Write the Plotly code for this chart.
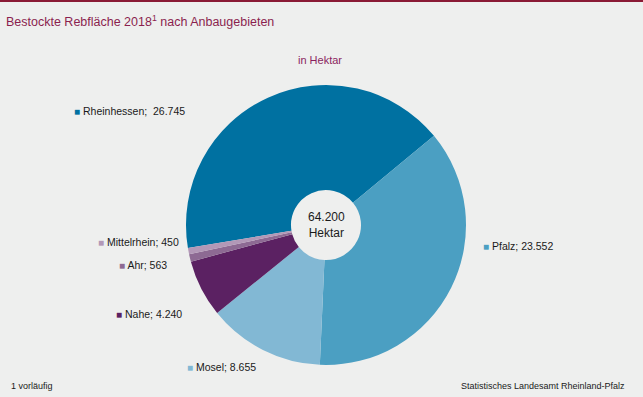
import plotly.graph_objects as go

regions = ["Rheinhessen", "Pfalz", "Mosel", "Nahe", "Ahr", "Mittelrhein"]
hectares = [26745, 23552, 8655, 4240, 563, 450]
value_labels = ["26.745", "23.552", "8.655", "4.240", "563", "450"]
colors = ["#0071A1", "#4B9FC2", "#82B8D4", "#5B2162", "#8D6A93", "#B298B7"]
total_label = "64.200"

W, H = 643, 397
def px(x):
    return x / W
def py(y):
    return 1 - y / H

cx, cy, r = 326, 225, 140

fig = go.Figure()
fig.add_trace(go.Pie(
    labels=regions,
    values=hectares,
    sort=False,
    direction="clockwise",
    rotation=-99.5,
    hole=0.25,
    marker=dict(colors=colors, line=dict(width=0)),
    textinfo="none",
    hoverinfo="label+value",
    showlegend=False,
    domain=dict(x=[px(cx - r), px(cx + r)], y=[py(cy + r), py(cy - r)]),
))

label_pos = {
    "Rheinhessen": (72, 111),
    "Pfalz": (481, 246),
    "Mosel": (185, 367),
    "Nahe": (114, 314),
    "Ahr": (117, 265),
    "Mittelrhein": (96, 242),
}

annotations = []
for name, val, col in zip(regions, value_labels, colors):
    x, y = label_pos[name]
    sep = ";  " if name == "Rheinhessen" else "; "
    annotations.append(dict(
        x=px(x), y=py(y), xref="paper", yref="paper",
        xanchor="left", yanchor="middle", showarrow=False,
        text=f"<span style='color:{col};font-size:10px'>■</span> {name}{sep}{val}",
        font=dict(family="Liberation Sans, Arial", size=10.5, color="#1a1a1a"),
    ))

annotations += [
    dict(x=px(cx), y=py(cy), xref="paper", yref="paper", showarrow=False,
         text=f"{total_label}<br>Hektar", align="center",
         font=dict(family="Liberation Sans, Arial", size=12, color="#1a1a1a")),
    dict(x=px(4), y=py(21), xref="paper", yref="paper", xanchor="left", yanchor="middle",
         showarrow=False, text="Bestockte Rebfläche 2018<sup>1</sup> nach Anbaugebieten",
         font=dict(family="Liberation Sans, Arial", size=12.5, color="#8B1F4F")),
    dict(x=px(320), y=py(60), xref="paper", yref="paper", xanchor="center", yanchor="middle",
         showarrow=False, text="in Hektar",
         font=dict(family="Liberation Sans, Arial", size=11, color="#8B1F5F")),
    dict(x=px(9), y=py(386), xref="paper", yref="paper", xanchor="left", yanchor="middle",
         showarrow=False, text="1 vorläufig",
         font=dict(family="Liberation Sans, Arial", size=9, color="#1a1a1a")),
    dict(x=px(627), y=py(386), xref="paper", yref="paper", xanchor="right", yanchor="middle",
         showarrow=False, text="Statistisches Landesamt Rheinland-Pfalz",
         font=dict(family="Liberation Sans, Arial", size=9, color="#1a1a1a")),
]

fig.update_layout(
    width=W, height=H,
    margin=dict(l=0, r=0, t=0, b=0),
    paper_bgcolor="#EEEFEE",
    plot_bgcolor="#EEEFEE",
    annotations=annotations,
    shapes=[dict(type="rect", xref="paper", yref="paper", x0=0, x1=1,
                 y0=py(2), y1=1, fillcolor="#8A1A35", line=dict(width=0))],
)

fig.write_html(
    "out.html",
    config={"displayModeBar": False},
    post_script="document.body.style.margin='0';document.body.style.padding='0';document.body.style.overflow='hidden';",
)
